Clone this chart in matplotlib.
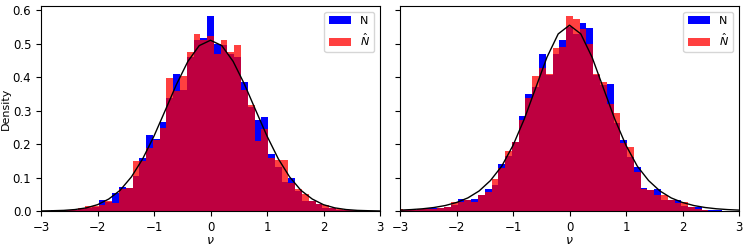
import numpy as np
import matplotlib
matplotlib.use("Agg")
import matplotlib.pyplot as plt

# bin centres, width 0.12, centred on 0
centers = np.round(np.arange(-25, 26) * 0.12, 2)
edges = np.round(np.arange(-25.5, 26) * 0.12, 2)

# left panel, density per bin
left_N = [0, 0.001, 0.002, 0.002, 0.003, 0.003, 0.005, 0.01, 0.013, 0.034,
          0.028, 0.055, 0.073, 0.068, 0.105, 0.157, 0.227, 0.214, 0.265, 0.338,
          0.409, 0.36, 0.46, 0.512, 0.517, 0.582, 0.50, 0.496, 0.47, 0.46,
          0.385, 0.31, 0.272, 0.28, 0.169, 0.132, 0.087, 0.099, 0.06, 0.03,
          0.03, 0.02, 0.01, 0.008, 0.004, 0.003, 0.002, 0.001, 0, 0, 0]
left_Nhat = [0, 0, 0.001, 0.002, 0.002, 0.004, 0.008, 0.015, 0.015, 0.018,
             0.03, 0.024, 0.066, 0.068, 0.15, 0.15, 0.187, 0.212, 0.247, 0.398,
             0.358, 0.403, 0.474, 0.53, 0.51, 0.523, 0.469, 0.51, 0.475, 0.497,
             0.36, 0.318, 0.209, 0.244, 0.157, 0.152, 0.152, 0.083, 0.065, 0.05,
             0.03, 0.022, 0.018, 0.008, 0.005, 0.003, 0.002, 0.001, 0.001, 0, 0]

# right panel
right_N = [0.003, 0.003, 0.004, 0.007, 0.008, 0.008, 0.01, 0.012, 0.018, 0.035,
           0.033, 0.035, 0.048, 0.065, 0.077, 0.142, 0.165, 0.205, 0.284, 0.351,
           0.369, 0.468, 0.405, 0.468, 0.51, 0.55, 0.53, 0.563, 0.548, 0.405,
           0.375, 0.38, 0.262, 0.212, 0.16, 0.132, 0.068, 0.064, 0.067, 0.034,
           0.032, 0.034, 0.015, 0.011, 0.011, 0.003, 0.003, 0.002, 0.001, 0, 0]
right_Nhat = [0.005, 0.003, 0.004, 0.005, 0.005, 0.007, 0.01, 0.012, 0.028, 0.028,
              0.033, 0.028, 0.048, 0.058, 0.095, 0.13, 0.179, 0.205, 0.272, 0.339,
              0.403, 0.426, 0.41, 0.487, 0.49, 0.582, 0.572, 0.545, 0.50, 0.41,
              0.386, 0.32, 0.293, 0.204, 0.192, 0.117, 0.066, 0.063, 0.047, 0.047,
              0.032, 0.025, 0.028, 0.013, 0.005, 0.003, 0.001, 0.001, 0.001, 0, 0]

# reference curves
curve_x = np.round(np.arange(-15, 16) * 0.2, 1)
left_curve = [0.0003, 0.001, 0.002, 0.0045, 0.0095, 0.019, 0.036, 0.062, 0.102, 0.156,
              0.224, 0.301, 0.379, 0.447, 0.494, 0.51, 0.494, 0.447, 0.379, 0.301,
              0.224, 0.156, 0.102, 0.062, 0.036, 0.019, 0.0095, 0.0045, 0.002, 0.001, 0.0003]
right_curve = [0.0028, 0.0044, 0.0068, 0.0106, 0.0165, 0.0256, 0.0392, 0.060, 0.091, 0.134,
               0.196, 0.275, 0.367, 0.459, 0.529, 0.555, 0.529, 0.459, 0.367, 0.275,
               0.196, 0.134, 0.091, 0.060, 0.0392, 0.0256, 0.0165, 0.0106, 0.0068, 0.0044, 0.0028]

plt.rcParams['xtick.labelsize'] = 8.5
plt.rcParams['ytick.labelsize'] = 8.5

fig = plt.figure(figsize=(7.47, 2.44), dpi=100)
ax1 = fig.add_axes([0.0549, 0.135, 0.4538, 0.84])
ax2 = fig.add_axes([0.5355, 0.135, 0.4538, 0.84], sharey=ax1)

panels = [(ax1, left_N, left_Nhat, left_curve), (ax2, right_N, right_Nhat, right_curve)]
for ax, n, nhat, curve in panels:
    ax.hist(centers, bins=edges, weights=n, color='blue', label='N')
    ax.hist(centers, bins=edges, weights=nhat, color='red', alpha=0.75, label=r'$\hat{N}$')
    ax.plot(curve_x, curve, color='black', lw=1)
    ax.set_xlim(-3, 3)
    ax.set_xticks([-3, -2, -1, 0, 1, 2, 3])
    ax.set_xlabel(r'$\nu$', fontsize=9, labelpad=0)
    ax.legend(loc='upper right', fontsize=8)

ax1.set_ylim(0, 0.612)
ax1.set_yticks([0, 0.1, 0.2, 0.3, 0.4, 0.5, 0.6])
ax1.set_ylabel('Density', fontsize=8, labelpad=1.5)
plt.setp(ax2.get_yticklabels(), visible=False)

fig.savefig('out.png', dpi=100)
